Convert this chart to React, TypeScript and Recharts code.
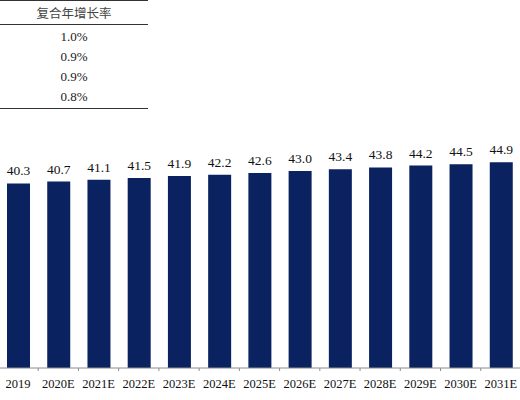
import { BarChart, Bar, XAxis, YAxis, LabelList } from 'recharts'

const years = ['2019', '2020E', '2021E', '2022E', '2023E', '2024E', '2025E', '2026E', '2027E', '2028E', '2029E', '2030E', '2031E']
const values = [40.3, 40.7, 41.1, 41.5, 41.9, 42.2, 42.6, 43.0, 43.4, 43.8, 44.2, 44.5, 44.9]
const cagrTitle = '复合年增长率'
const cagrValues = ['1.0%', '0.9%', '0.9%', '0.8%']

const FONT = '"Liberation Serif", "Times New Roman", serif'

const chartData = years.map((year, i) => ({ year, value: values[i] }))

function YearTick(props: any) {
  const { x, y, payload } = props
  return (
    <g>
      <line x1={x + 20.1} x2={x + 20.1} y1={y - 8} y2={y - 5} stroke="#8c8c8c" />
      <text x={x} y={y + 12} textAnchor="middle" fontSize={12.5} fill="#111" fontFamily={FONT}>
        {payload.value}
      </text>
    </g>
  )
}

function ValueLabel(props: any) {
  const { x, y, width, value } = props
  return (
    <text x={x + width / 2} y={y - 8} textAnchor="middle" fontSize={13.5} fill="#111" fontFamily={FONT}>
      {Number(value).toFixed(1)}
    </text>
  )
}

export default function App() {
  return (
    <div style={{ position: 'absolute', left: 0, top: 0, width: 520, height: 400, background: '#fff', overflow: 'hidden', fontFamily: FONT }}>
      <div style={{ position: 'absolute', left: 0, top: 0, width: 148, color: '#222' }}>
        <div style={{ borderTop: '1.5px solid #333', borderBottom: '1.5px solid #333', height: 23, lineHeight: '23px', textAlign: 'center', fontSize: 12.5, fontFamily: '"Noto Sans CJK SC", sans-serif', color: '#444' }}>
          {cagrTitle}
        </div>
        <div style={{ borderBottom: '1.5px solid #333', paddingTop: 2, paddingBottom: 1 }}>
          {cagrValues.map((v, i) => (
            <div key={i} style={{ height: 20, lineHeight: '20px', textAlign: 'center', fontSize: 13 }}>
              {v}
            </div>
          ))}
        </div>
      </div>
      <div style={{ position: 'absolute', left: -2, top: 0 }}>
        <BarChart width={523} height={400} data={chartData} margin={{ top: 139, right: 0, bottom: 0, left: 0 }} barCategoryGap={0}>
          <XAxis
            dataKey="year"
            height={32}
            interval={0}
            axisLine={{ stroke: '#8c8c8c' }}
            tickLine={false}
            tick={<YearTick />}
          />
          <YAxis hide domain={[0, 50]} />
          <Bar dataKey="value" fill="#0b2260" barSize={23} isAnimationActive={false}>
            <LabelList dataKey="value" content={<ValueLabel />} />
          </Bar>
        </BarChart>
      </div>
    </div>
  )
}
